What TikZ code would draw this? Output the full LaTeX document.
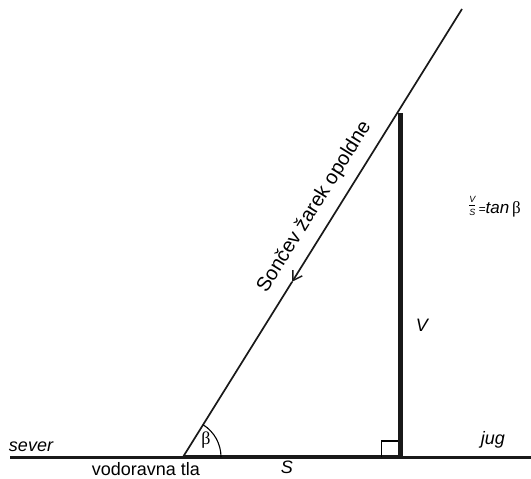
\documentclass[tikz,border=0pt]{standalone}
\usepackage{fontspec}
\setmainfont{Liberation Sans}
\newfontfamily\symserif{Liberation Serif}
\usetikzlibrary{arrows.meta,calc}
\tikzset{
  lbl/.style={inner sep=0pt, anchor=base, font=\fontsize{18}{20}\selectfont},
  ilbl/.style={lbl, font=\fontsize{18}{20}\selectfont\itshape},
  ray/.style={line width=1.7pt, draw=black!90},
  ground/.style={line width=3pt, draw=black!90},
  thickbar/.style={line width=5pt, draw=black!90},
}
\begin{document}
\begin{tikzpicture}[x=1pt,y=-1pt]
\useasboundingbox (0,0) rectangle (531,479);
% points
\coordinate (gL) at (10,457);
\coordinate (gR) at (531,457);
\coordinate (A) at (183,457);
\coordinate (B) at (400,457);
\coordinate (T) at (462,9);
\coordinate (Vtop) at (400,113);
\coordinate (M) at ($(A)!0.391!(T)$);
% ground
\draw[ground] (gL) -- (gR);
\draw[line width=4pt, draw=black!90] (A) -- (B);
% vertical
\draw[thickbar] (B) -- (Vtop);
% right angle square
\draw[line width=1.3pt] ($(B)+(-2.5,0)$) ++(-16,0) |- ++(16,-16);
% ray
\draw[ray, -{Straight Barb[length=9pt,width=11pt,line width=1.5pt]}] (T) -- (M);
\draw[ray] (M) -- (A);
% label on ray
\path (A) -- (T) node[pos=0.534, sloped, above=11pt, inner sep=0pt, font=\fontsize{20}{22}\selectfont] (raylbl) {Sončev žarek opoldne};
% angle
\draw[line width=1.1pt] ($(A)+(38,0)$) arc[start angle=0, end angle=-58.1, radius=38];
\node[inner sep=0pt, font=\fontsize{18}{20}\symserif] (beta) at (206,440) {β};
% labels
\node[ilbl] (sever) at (31,451) {sever};
\node[lbl] (tla) at (146,475) {vodoravna tla};
\node[ilbl] (S) at (287,473) {S};
\node[ilbl] (V) at (422,331) {V};
\node[ilbl] (jug) at (493,444) {jug};
\node[inner sep=0pt, anchor=base west, font=\fontsize{17}{19}\selectfont] (formula) at (468,213)
  {\raisebox{3.5pt}{$\frac{\mbox{\fontsize{9}{9}\selectfont\itshape V}}{\mbox{\fontsize{9}{9}\selectfont\itshape S}}$}{\itshape{\fontsize{12}{12}\selectfont\,=}tan}\,{\symserif β}};
\end{tikzpicture}
\end{document}
